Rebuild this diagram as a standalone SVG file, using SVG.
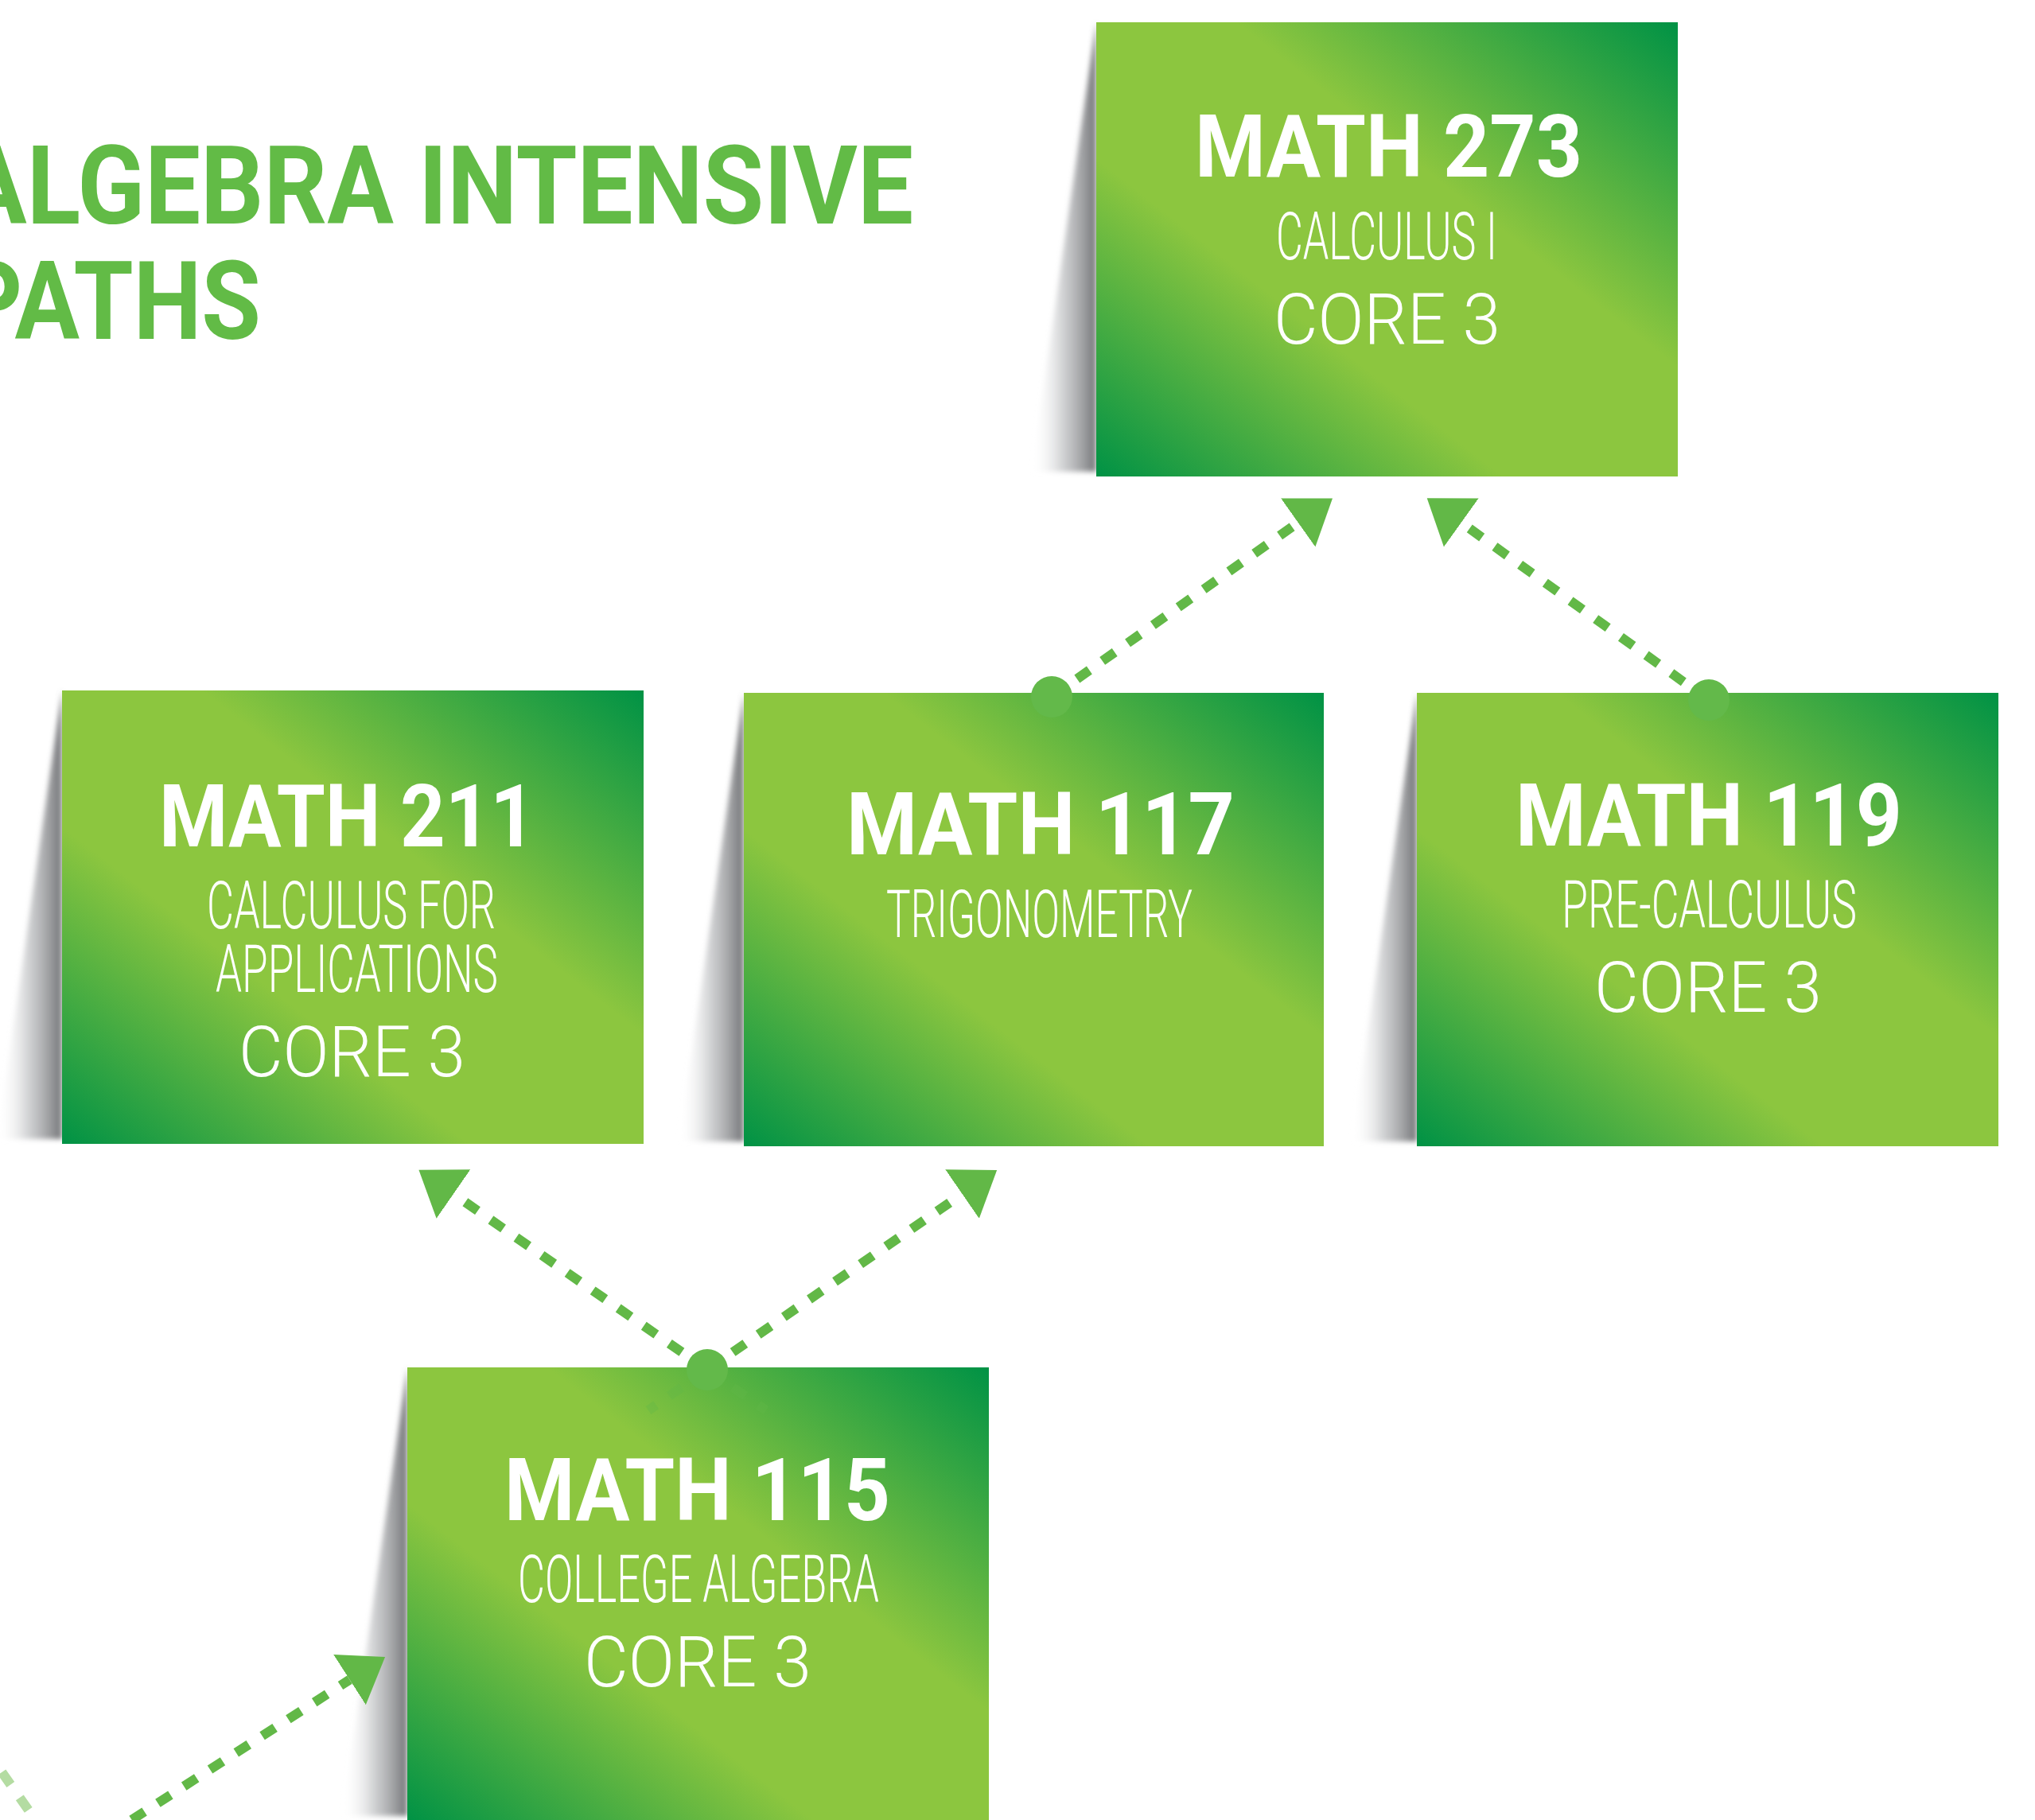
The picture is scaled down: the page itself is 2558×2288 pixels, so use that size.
<svg xmlns="http://www.w3.org/2000/svg" width="2558" height="2288" viewBox="0 0 2558 2288">
<style>
.box{fill:url(#boxGrad)}
.shadow{fill:url(#shadowGrad);filter:url(#soft)}
.t1{font-family:Roboto,"Liberation Sans",sans-serif;font-weight:700;font-size:110px;fill:#ffffff}
.t2{font-family:Roboto,"Liberation Sans",sans-serif;font-weight:300;font-size:83px;fill:#ffffff}
.t3{font-family:Roboto,"Liberation Sans",sans-serif;font-weight:300;font-size:89px;fill:#ffffff}
.title{font-family:Roboto,"Liberation Sans",sans-serif;font-weight:700;font-size:138px;fill:#62bb46}
.dash{fill:none;stroke:#62b847;stroke-width:12;stroke-dasharray:19 20}
.faint{fill:none;stroke:#62b847;stroke-width:12;stroke-dasharray:19 20;opacity:0.35}
.light{fill:none;stroke:#b4dca2;stroke-width:12;stroke-dasharray:19 20}
.dot{fill:#63b94a}
</style>
<defs>
<linearGradient id="boxGrad" x1="0" y1="1" x2="1" y2="0">
<stop offset="0" stop-color="#009245"/>
<stop offset="0.35" stop-color="#8cc63f"/>
<stop offset="0.62" stop-color="#8cc63f"/>
<stop offset="1" stop-color="#009245"/>
</linearGradient>
<linearGradient id="shadowGrad" x1="0" y1="0" x2="1" y2="0">
<stop offset="0" stop-color="#ffffff" stop-opacity="0"/>
<stop offset="0.5" stop-color="#a7a9ac" stop-opacity="0.55"/>
<stop offset="1" stop-color="#6d6e71" stop-opacity="0.95"/>
</linearGradient>
<filter id="soft" x="-20%" y="-5%" width="140%" height="110%"><feGaussianBlur stdDeviation="3"/></filter>
<marker id="arrow" markerUnits="userSpaceOnUse" viewBox="0 -40 60 80" refX="0" refY="0" markerWidth="60" markerHeight="80" orient="auto">
<path d="M0,-37.5 L53,0 L0,37.5 Z" fill="#62b847"/>
</marker>
</defs>
<rect width="2558" height="2288" fill="#ffffff"/>

<g id="title">
<text class="title" x="-50" y="281" textLength="1198" lengthAdjust="spacingAndGlyphs">ALGEBRA INTENSIVE</text>
<text class="title" x="-50" y="426" textLength="378" lengthAdjust="spacingAndGlyphs">PATHS</text>
</g>

<g id="math273">
<polygon class="shadow" points="1378,28 1378,593 1296,593"/>
<rect class="box" x="1378" y="28" width="731" height="571"/>
<text class="t1" x="1502" y="222" textLength="487" lengthAdjust="spacingAndGlyphs">MATH 273</text>
<text class="t2" x="1604" y="326" textLength="278" lengthAdjust="spacingAndGlyphs">CALCULUS I</text>
<text class="t3" x="1601" y="432" textLength="285" lengthAdjust="spacingAndGlyphs">CORE 3</text>
</g>

<g id="math211">
<polygon class="shadow" points="78,868 78,1432 -4,1432"/>
<rect class="box" x="78" y="868" width="731" height="570"/>
<text class="t1" x="200" y="1064" textLength="473" lengthAdjust="spacingAndGlyphs">MATH 211</text>
<text class="t2" x="260" y="1167" textLength="363" lengthAdjust="spacingAndGlyphs">CALCULUS FOR</text>
<text class="t2" x="271" y="1247" textLength="355" lengthAdjust="spacingAndGlyphs">APPLICATIONS</text>
<text class="t3" x="300" y="1353" textLength="285" lengthAdjust="spacingAndGlyphs">CORE 3</text>
</g>

<g id="math117">
<polygon class="shadow" points="935,871 935,1435 853,1435"/>
<rect class="box" x="935" y="871" width="729" height="570"/>
<text class="t1" x="1064" y="1074" textLength="488" lengthAdjust="spacingAndGlyphs">MATH 117</text>
<text class="t2" x="1114" y="1178" textLength="385" lengthAdjust="spacingAndGlyphs">TRIGONOMETRY</text>
</g>

<g id="math119">
<polygon class="shadow" points="1781,871 1781,1435 1699,1435"/>
<rect class="box" x="1781" y="871" width="731" height="570"/>
<text class="t1" x="1905" y="1063" textLength="486" lengthAdjust="spacingAndGlyphs">MATH 119</text>
<text class="t2" x="1963" y="1166" textLength="371" lengthAdjust="spacingAndGlyphs">PRE-CALCULUS</text>
<text class="t3" x="2004" y="1272" textLength="286" lengthAdjust="spacingAndGlyphs">CORE 3</text>
</g>

<g id="math115">
<polygon class="shadow" points="512,1719 512,2283 430,2283"/>
<rect class="box" x="512" y="1719" width="731" height="570"/>
<text class="t1" x="634" y="1911" textLength="485" lengthAdjust="spacingAndGlyphs">MATH 115</text>
<text class="t2" x="651" y="2014" textLength="454" lengthAdjust="spacingAndGlyphs">COLLEGE ALGEBRA</text>
<text class="t3" x="734" y="2120" textLength="286" lengthAdjust="spacingAndGlyphs">CORE 3</text>
</g>

<g id="connectors">
<path class="dash" d="M889,1722 L570,1501" marker-end="url(#arrow)"/>
<path class="dash" d="M889,1722 L1209.5,1501" marker-end="url(#arrow)"/>
<path class="faint" d="M889,1722 L963,1773"/>
<path class="faint" d="M889,1722 L815,1773"/>
<circle class="dot" cx="889" cy="1722" r="26"/>
<path class="dash" d="M1322,876 L1631.7,657" marker-end="url(#arrow)"/>
<circle class="dot" cx="1322" cy="876" r="26"/>
<path class="dash" d="M2148,880 L1836.8,657" marker-end="url(#arrow)"/>
<circle class="dot" cx="2148" cy="880" r="26"/>
<path class="dash" d="M100,2330 L439.5,2111.6" marker-end="url(#arrow)"/>
<path class="light" d="M-20,2196 L60,2310"/>
</g>
</svg>
